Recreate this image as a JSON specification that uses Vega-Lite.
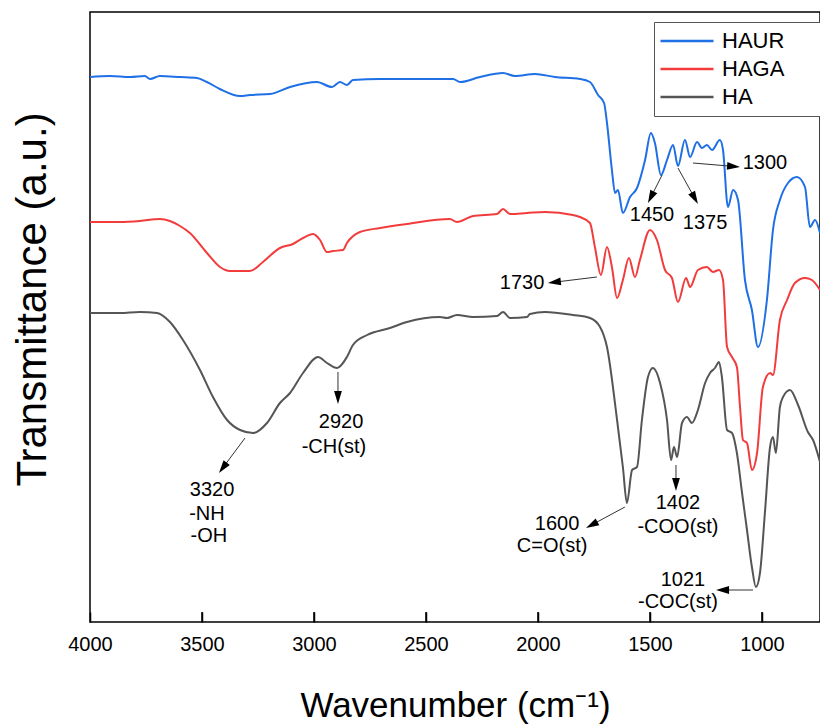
{
  "$schema": "https://vega.github.io/schema/vega-lite/v6.json",
  "width": 730,
  "height": 610,
  "autosize": {"type": "none"},
  "padding": {"left": 90, "top": 12, "right": 0, "bottom": 103},
  "config": {
    "font": "Liberation Sans",
    "view": {"stroke": "#000", "strokeWidth": 1.5},
    "axis": {"grid": false}
  },
  "datasets": {
    "spectra": [
      {"sample": "HAUR", "wavenumber": 4000, "transmittance": 545},
      {"sample": "HAUR", "wavenumber": 3911, "transmittance": 546},
      {"sample": "HAUR", "wavenumber": 3821, "transmittance": 545},
      {"sample": "HAUR", "wavenumber": 3755, "transmittance": 546},
      {"sample": "HAUR", "wavenumber": 3732, "transmittance": 543},
      {"sample": "HAUR", "wavenumber": 3688, "transmittance": 546},
      {"sample": "HAUR", "wavenumber": 3598, "transmittance": 545},
      {"sample": "HAUR", "wavenumber": 3522, "transmittance": 544},
      {"sample": "HAUR", "wavenumber": 3478, "transmittance": 540},
      {"sample": "HAUR", "wavenumber": 3420, "transmittance": 533},
      {"sample": "HAUR", "wavenumber": 3330, "transmittance": 526},
      {"sample": "HAUR", "wavenumber": 3286, "transmittance": 527},
      {"sample": "HAUR", "wavenumber": 3196, "transmittance": 528},
      {"sample": "HAUR", "wavenumber": 3107, "transmittance": 535},
      {"sample": "HAUR", "wavenumber": 2987, "transmittance": 540},
      {"sample": "HAUR", "wavenumber": 2920, "transmittance": 535},
      {"sample": "HAUR", "wavenumber": 2884, "transmittance": 540},
      {"sample": "HAUR", "wavenumber": 2853, "transmittance": 537},
      {"sample": "HAUR", "wavenumber": 2826, "transmittance": 542},
      {"sample": "HAUR", "wavenumber": 2705, "transmittance": 543},
      {"sample": "HAUR", "wavenumber": 2379, "transmittance": 543},
      {"sample": "HAUR", "wavenumber": 2348, "transmittance": 540},
      {"sample": "HAUR", "wavenumber": 2259, "transmittance": 545},
      {"sample": "HAUR", "wavenumber": 2156, "transmittance": 549},
      {"sample": "HAUR", "wavenumber": 2103, "transmittance": 546},
      {"sample": "HAUR", "wavenumber": 2013, "transmittance": 548},
      {"sample": "HAUR", "wavenumber": 1925, "transmittance": 545},
      {"sample": "HAUR", "wavenumber": 1813, "transmittance": 543},
      {"sample": "HAUR", "wavenumber": 1768, "transmittance": 540},
      {"sample": "HAUR", "wavenumber": 1732, "transmittance": 527},
      {"sample": "HAUR", "wavenumber": 1705, "transmittance": 519},
      {"sample": "HAUR", "wavenumber": 1692, "transmittance": 499},
      {"sample": "HAUR", "wavenumber": 1670, "transmittance": 452},
      {"sample": "HAUR", "wavenumber": 1656, "transmittance": 429},
      {"sample": "HAUR", "wavenumber": 1643, "transmittance": 432},
      {"sample": "HAUR", "wavenumber": 1621, "transmittance": 409},
      {"sample": "HAUR", "wavenumber": 1589, "transmittance": 425},
      {"sample": "HAUR", "wavenumber": 1558, "transmittance": 434},
      {"sample": "HAUR", "wavenumber": 1522, "transmittance": 462},
      {"sample": "HAUR", "wavenumber": 1496, "transmittance": 489},
      {"sample": "HAUR", "wavenumber": 1478, "transmittance": 479},
      {"sample": "HAUR", "wavenumber": 1451, "transmittance": 447},
      {"sample": "HAUR", "wavenumber": 1424, "transmittance": 462},
      {"sample": "HAUR", "wavenumber": 1397, "transmittance": 477},
      {"sample": "HAUR", "wavenumber": 1375, "transmittance": 456},
      {"sample": "HAUR", "wavenumber": 1344, "transmittance": 482},
      {"sample": "HAUR", "wavenumber": 1321, "transmittance": 465},
      {"sample": "HAUR", "wavenumber": 1290, "transmittance": 480},
      {"sample": "HAUR", "wavenumber": 1268, "transmittance": 474},
      {"sample": "HAUR", "wavenumber": 1246, "transmittance": 477},
      {"sample": "HAUR", "wavenumber": 1223, "transmittance": 472},
      {"sample": "HAUR", "wavenumber": 1188, "transmittance": 482},
      {"sample": "HAUR", "wavenumber": 1174, "transmittance": 472},
      {"sample": "HAUR", "wavenumber": 1152, "transmittance": 415},
      {"sample": "HAUR", "wavenumber": 1129, "transmittance": 432},
      {"sample": "HAUR", "wavenumber": 1107, "transmittance": 422},
      {"sample": "HAUR", "wavenumber": 1076, "transmittance": 342},
      {"sample": "HAUR", "wavenumber": 1045, "transmittance": 312},
      {"sample": "HAUR", "wavenumber": 1018, "transmittance": 275},
      {"sample": "HAUR", "wavenumber": 978, "transmittance": 322},
      {"sample": "HAUR", "wavenumber": 951, "transmittance": 392},
      {"sample": "HAUR", "wavenumber": 920, "transmittance": 422},
      {"sample": "HAUR", "wavenumber": 884, "transmittance": 439},
      {"sample": "HAUR", "wavenumber": 844, "transmittance": 445},
      {"sample": "HAUR", "wavenumber": 808, "transmittance": 435},
      {"sample": "HAUR", "wavenumber": 786, "transmittance": 395},
      {"sample": "HAUR", "wavenumber": 763, "transmittance": 402},
      {"sample": "HAUR", "wavenumber": 741, "transmittance": 389},

      {"sample": "HAGA", "wavenumber": 4000, "transmittance": 400},
      {"sample": "HAGA", "wavenumber": 3866, "transmittance": 400},
      {"sample": "HAGA", "wavenumber": 3777, "transmittance": 401},
      {"sample": "HAGA", "wavenumber": 3688, "transmittance": 403},
      {"sample": "HAGA", "wavenumber": 3643, "transmittance": 401},
      {"sample": "HAGA", "wavenumber": 3598, "transmittance": 396},
      {"sample": "HAGA", "wavenumber": 3554, "transmittance": 389},
      {"sample": "HAGA", "wavenumber": 3478, "transmittance": 369},
      {"sample": "HAGA", "wavenumber": 3420, "transmittance": 355},
      {"sample": "HAGA", "wavenumber": 3375, "transmittance": 351},
      {"sample": "HAGA", "wavenumber": 3286, "transmittance": 351},
      {"sample": "HAGA", "wavenumber": 3228, "transmittance": 360},
      {"sample": "HAGA", "wavenumber": 3152, "transmittance": 374},
      {"sample": "HAGA", "wavenumber": 3094, "transmittance": 378},
      {"sample": "HAGA", "wavenumber": 3049, "transmittance": 384},
      {"sample": "HAGA", "wavenumber": 3004, "transmittance": 388},
      {"sample": "HAGA", "wavenumber": 2973, "transmittance": 382},
      {"sample": "HAGA", "wavenumber": 2942, "transmittance": 370},
      {"sample": "HAGA", "wavenumber": 2915, "transmittance": 371},
      {"sample": "HAGA", "wavenumber": 2871, "transmittance": 372},
      {"sample": "HAGA", "wavenumber": 2853, "transmittance": 379},
      {"sample": "HAGA", "wavenumber": 2795, "transmittance": 390},
      {"sample": "HAGA", "wavenumber": 2705, "transmittance": 394},
      {"sample": "HAGA", "wavenumber": 2585, "transmittance": 398},
      {"sample": "HAGA", "wavenumber": 2393, "transmittance": 403},
      {"sample": "HAGA", "wavenumber": 2362, "transmittance": 400},
      {"sample": "HAGA", "wavenumber": 2290, "transmittance": 406},
      {"sample": "HAGA", "wavenumber": 2183, "transmittance": 408},
      {"sample": "HAGA", "wavenumber": 2156, "transmittance": 413},
      {"sample": "HAGA", "wavenumber": 2125, "transmittance": 408},
      {"sample": "HAGA", "wavenumber": 2049, "transmittance": 409},
      {"sample": "HAGA", "wavenumber": 1969, "transmittance": 410},
      {"sample": "HAGA", "wavenumber": 1844, "transmittance": 407},
      {"sample": "HAGA", "wavenumber": 1813, "transmittance": 405},
      {"sample": "HAGA", "wavenumber": 1768, "transmittance": 399},
      {"sample": "HAGA", "wavenumber": 1746, "transmittance": 375},
      {"sample": "HAGA", "wavenumber": 1719, "transmittance": 347},
      {"sample": "HAGA", "wavenumber": 1692, "transmittance": 375},
      {"sample": "HAGA", "wavenumber": 1670, "transmittance": 355},
      {"sample": "HAGA", "wavenumber": 1647, "transmittance": 324},
      {"sample": "HAGA", "wavenumber": 1621, "transmittance": 342},
      {"sample": "HAGA", "wavenumber": 1594, "transmittance": 364},
      {"sample": "HAGA", "wavenumber": 1567, "transmittance": 345},
      {"sample": "HAGA", "wavenumber": 1545, "transmittance": 362},
      {"sample": "HAGA", "wavenumber": 1500, "transmittance": 392},
      {"sample": "HAGA", "wavenumber": 1469, "transmittance": 382},
      {"sample": "HAGA", "wavenumber": 1433, "transmittance": 352},
      {"sample": "HAGA", "wavenumber": 1402, "transmittance": 344},
      {"sample": "HAGA", "wavenumber": 1375, "transmittance": 320},
      {"sample": "HAGA", "wavenumber": 1339, "transmittance": 344},
      {"sample": "HAGA", "wavenumber": 1321, "transmittance": 335},
      {"sample": "HAGA", "wavenumber": 1286, "transmittance": 352},
      {"sample": "HAGA", "wavenumber": 1246, "transmittance": 355},
      {"sample": "HAGA", "wavenumber": 1219, "transmittance": 350},
      {"sample": "HAGA", "wavenumber": 1192, "transmittance": 352},
      {"sample": "HAGA", "wavenumber": 1174, "transmittance": 342},
      {"sample": "HAGA", "wavenumber": 1156, "transmittance": 275},
      {"sample": "HAGA", "wavenumber": 1134, "transmittance": 265},
      {"sample": "HAGA", "wavenumber": 1112, "transmittance": 255},
      {"sample": "HAGA", "wavenumber": 1098, "transmittance": 215},
      {"sample": "HAGA", "wavenumber": 1085, "transmittance": 182},
      {"sample": "HAGA", "wavenumber": 1067, "transmittance": 179},
      {"sample": "HAGA", "wavenumber": 1045, "transmittance": 152},
      {"sample": "HAGA", "wavenumber": 1022, "transmittance": 169},
      {"sample": "HAGA", "wavenumber": 996, "transmittance": 235},
      {"sample": "HAGA", "wavenumber": 964, "transmittance": 249},
      {"sample": "HAGA", "wavenumber": 951, "transmittance": 247},
      {"sample": "HAGA", "wavenumber": 920, "transmittance": 302},
      {"sample": "HAGA", "wavenumber": 888, "transmittance": 322},
      {"sample": "HAGA", "wavenumber": 853, "transmittance": 339},
      {"sample": "HAGA", "wavenumber": 808, "transmittance": 344},
      {"sample": "HAGA", "wavenumber": 777, "transmittance": 342},
      {"sample": "HAGA", "wavenumber": 741, "transmittance": 332},

      {"sample": "HA", "wavenumber": 4000, "transmittance": 309},
      {"sample": "HA", "wavenumber": 3866, "transmittance": 309},
      {"sample": "HA", "wavenumber": 3777, "transmittance": 310},
      {"sample": "HA", "wavenumber": 3701, "transmittance": 309},
      {"sample": "HA", "wavenumber": 3643, "transmittance": 300},
      {"sample": "HA", "wavenumber": 3585, "transmittance": 282},
      {"sample": "HA", "wavenumber": 3509, "transmittance": 252},
      {"sample": "HA", "wavenumber": 3451, "transmittance": 225},
      {"sample": "HA", "wavenumber": 3388, "transmittance": 202},
      {"sample": "HA", "wavenumber": 3330, "transmittance": 192},
      {"sample": "HA", "wavenumber": 3272, "transmittance": 189},
      {"sample": "HA", "wavenumber": 3210, "transmittance": 199},
      {"sample": "HA", "wavenumber": 3152, "transmittance": 219},
      {"sample": "HA", "wavenumber": 3107, "transmittance": 229},
      {"sample": "HA", "wavenumber": 3049, "transmittance": 249},
      {"sample": "HA", "wavenumber": 2982, "transmittance": 265},
      {"sample": "HA", "wavenumber": 2942, "transmittance": 259},
      {"sample": "HA", "wavenumber": 2897, "transmittance": 254},
      {"sample": "HA", "wavenumber": 2853, "transmittance": 265},
      {"sample": "HA", "wavenumber": 2826, "transmittance": 277},
      {"sample": "HA", "wavenumber": 2763, "transmittance": 287},
      {"sample": "HA", "wavenumber": 2661, "transmittance": 294},
      {"sample": "HA", "wavenumber": 2585, "transmittance": 300},
      {"sample": "HA", "wavenumber": 2438, "transmittance": 305},
      {"sample": "HA", "wavenumber": 2406, "transmittance": 304},
      {"sample": "HA", "wavenumber": 2362, "transmittance": 307},
      {"sample": "HA", "wavenumber": 2290, "transmittance": 305},
      {"sample": "HA", "wavenumber": 2183, "transmittance": 306},
      {"sample": "HA", "wavenumber": 2156, "transmittance": 310},
      {"sample": "HA", "wavenumber": 2125, "transmittance": 304},
      {"sample": "HA", "wavenumber": 2049, "transmittance": 305},
      {"sample": "HA", "wavenumber": 2036, "transmittance": 308},
      {"sample": "HA", "wavenumber": 1969, "transmittance": 310},
      {"sample": "HA", "wavenumber": 1844, "transmittance": 307},
      {"sample": "HA", "wavenumber": 1768, "transmittance": 304},
      {"sample": "HA", "wavenumber": 1723, "transmittance": 295},
      {"sample": "HA", "wavenumber": 1692, "transmittance": 275},
      {"sample": "HA", "wavenumber": 1647, "transmittance": 202},
      {"sample": "HA", "wavenumber": 1621, "transmittance": 155},
      {"sample": "HA", "wavenumber": 1603, "transmittance": 119},
      {"sample": "HA", "wavenumber": 1580, "transmittance": 152},
      {"sample": "HA", "wavenumber": 1558, "transmittance": 155},
      {"sample": "HA", "wavenumber": 1536, "transmittance": 202},
      {"sample": "HA", "wavenumber": 1509, "transmittance": 245},
      {"sample": "HA", "wavenumber": 1487, "transmittance": 254},
      {"sample": "HA", "wavenumber": 1455, "transmittance": 239},
      {"sample": "HA", "wavenumber": 1424, "transmittance": 202},
      {"sample": "HA", "wavenumber": 1406, "transmittance": 162},
      {"sample": "HA", "wavenumber": 1393, "transmittance": 175},
      {"sample": "HA", "wavenumber": 1379, "transmittance": 165},
      {"sample": "HA", "wavenumber": 1357, "transmittance": 199},
      {"sample": "HA", "wavenumber": 1335, "transmittance": 205},
      {"sample": "HA", "wavenumber": 1313, "transmittance": 199},
      {"sample": "HA", "wavenumber": 1286, "transmittance": 212},
      {"sample": "HA", "wavenumber": 1254, "transmittance": 239},
      {"sample": "HA", "wavenumber": 1232, "transmittance": 249},
      {"sample": "HA", "wavenumber": 1210, "transmittance": 254},
      {"sample": "HA", "wavenumber": 1192, "transmittance": 260},
      {"sample": "HA", "wavenumber": 1179, "transmittance": 245},
      {"sample": "HA", "wavenumber": 1156, "transmittance": 192},
      {"sample": "HA", "wavenumber": 1134, "transmittance": 189},
      {"sample": "HA", "wavenumber": 1112, "transmittance": 169},
      {"sample": "HA", "wavenumber": 1089, "transmittance": 129},
      {"sample": "HA", "wavenumber": 1067, "transmittance": 92},
      {"sample": "HA", "wavenumber": 1045, "transmittance": 55},
      {"sample": "HA", "wavenumber": 1027, "transmittance": 35},
      {"sample": "HA", "wavenumber": 1009, "transmittance": 49},
      {"sample": "HA", "wavenumber": 987, "transmittance": 109},
      {"sample": "HA", "wavenumber": 964, "transmittance": 175},
      {"sample": "HA", "wavenumber": 951, "transmittance": 185},
      {"sample": "HA", "wavenumber": 938, "transmittance": 169},
      {"sample": "HA", "wavenumber": 920, "transmittance": 215},
      {"sample": "HA", "wavenumber": 906, "transmittance": 225},
      {"sample": "HA", "wavenumber": 875, "transmittance": 232},
      {"sample": "HA", "wavenumber": 839, "transmittance": 217},
      {"sample": "HA", "wavenumber": 795, "transmittance": 190},
      {"sample": "HA", "wavenumber": 772, "transmittance": 182},
      {"sample": "HA", "wavenumber": 741, "transmittance": 160}
    ],
    "tickvals": [
      {"wavenumber": 3500}, {"wavenumber": 3000}, {"wavenumber": 2500},
      {"wavenumber": 2000}, {"wavenumber": 1500}, {"wavenumber": 1000}
    ],
    "arrows": [
      {"x1": 1308, "y1": 459, "x2": 1127, "y2": 455.6, "angle": 95},
      {"x1": 1446, "y1": 447, "x2": 1496, "y2": 424.8, "angle": 206.6},
      {"x1": 1375, "y1": 454, "x2": 1300, "y2": 423.7, "angle": 150.9},
      {"x1": 1737, "y1": 345, "x2": 1927, "y2": 339.8, "angle": 263},
      {"x1": 2893, "y1": 250, "x2": 2893, "y2": 224.5, "angle": 180},
      {"x1": 3308, "y1": 184, "x2": 3407, "y2": 154.2, "angle": 216.6},
      {"x1": 1612, "y1": 115, "x2": 1760, "y2": 97.1, "angle": 241.7},
      {"x1": 1384, "y1": 157, "x2": 1384, "y2": 137.5, "angle": 180},
      {"x1": 1040, "y1": 32, "x2": 1176, "y2": 32, "angle": 270}
    ],
    "labels": [
      {"x": 987, "y": 459, "text": "1300"},
      {"x": 1491, "y": 407, "text": "1450"},
      {"x": 1254, "y": 399, "text": "1375"},
      {"x": 2071, "y": 339, "text": "1730"},
      {"x": 2879, "y": 200, "text": "2920"},
      {"x": 2911, "y": 175, "text": "-CH(st)"},
      {"x": 3455, "y": 132, "text": "3320"},
      {"x": 3478, "y": 108, "text": "-NH"},
      {"x": 3469, "y": 86, "text": "-OH"},
      {"x": 1915, "y": 98, "text": "1600"},
      {"x": 1937, "y": 76, "text": "C=O(st)"},
      {"x": 1375, "y": 119, "text": "1402"},
      {"x": 1375, "y": 95, "text": "-COO(st)"},
      {"x": 1353, "y": 42, "text": "1021"},
      {"x": 1375, "y": 20, "text": "-COC(st)"}
    ]
  },
  "layer": [
    {
      "data": {"name": "spectra"},
      "mark": {"type": "line", "strokeWidth": 2, "clip": true, "interpolate": "monotone"},
      "encoding": {
        "x": {
          "field": "wavenumber",
          "type": "quantitative",
          "scale": {"domain": [741, 4000], "reverse": true, "nice": false, "zero": false},
          "axis": {
            "values": [4000, 3500, 3000, 2500, 2000, 1500, 1000],
            "format": "d",
            "offset": -10,
            "domain": false,
            "ticks": true,
            "tickSize": 10,
            "tickColor": "#000",
            "tickWidth": 1.5,
            "labelFontSize": 20,
            "labelColor": "#000",
            "labelPadding": 12,
            "labelFlush": false,
            "labelOverlap": false,
            "title": "Wavenumber (cm⁻¹)",
            "titleFontSize": 35,
            "titleFontWeight": "normal",
            "titleColor": "#000",
            "titleY": 76,
            "titleBaseline": "top",
            "zindex": 1
          }
        },
        "y": {
          "field": "transmittance",
          "type": "quantitative",
          "scale": {"domain": [0, 610], "nice": false, "zero": false},
          "axis": {
            "title": "Transmittance (a.u.)",
            "labels": false,
            "ticks": false,
            "domain": false,
            "titleFontSize": 42,
            "titleFontWeight": "normal",
            "titleColor": "#000",
            "titleX": -58,
            "titleY": 287,
            "titleAngle": 270,
            "titleBaseline": "middle",
            "titleAlign": "center"
          }
        },
        "color": {
          "field": "sample",
          "type": "nominal",
          "scale": {"domain": ["HAUR", "HAGA", "HA"], "range": ["#1f6fe5", "#f23c3c", "#555555"]},
          "legend": {
            "title": null,
            "orient": "none",
            "legendX": 564,
            "legendY": 10,
            "symbolType": "stroke",
            "symbolSize": 2809,
            "symbolStrokeWidth": 2.5,
            "labelFontSize": 22,
            "labelColor": "#000",
            "labelOffset": 7,
            "labelExpr": "datum.label + '\u00a0\u00a0\u00a0\u00a0\u00a0\u00a0\u00a0\u200b'",
            "clipHeight": 28,
            "rowPadding": 0,
            "padding": 5,
            "strokeColor": "#555",
            "fillColor": "#fff"
          }
        }
      }
    },
    {
      "data": {"name": "tickvals"},
      "mark": {"type": "tick", "orient": "vertical", "thickness": 1.5, "size": 10, "color": "#000", "opacity": 1},
      "encoding": {
        "x": {"field": "wavenumber", "type": "quantitative"},
        "y": {"datum": 5}
      }
    },
    {
      "data": {"name": "arrows"},
      "mark": {"type": "rule", "color": "#333", "strokeWidth": 1},
      "encoding": {
        "x": {"field": "x1", "type": "quantitative"},
        "x2": {"field": "x2"},
        "y": {"field": "y1", "type": "quantitative"},
        "y2": {"field": "y2"}
      }
    },
    {
      "data": {"name": "arrows"},
      "mark": {"type": "point", "shape": "M0,-1L0.6,1L-0.6,1Z", "filled": true, "color": "#000", "opacity": 1, "size": 169},
      "encoding": {
        "x": {"field": "x2", "type": "quantitative"},
        "y": {"field": "y2", "type": "quantitative"},
        "angle": {"field": "angle", "type": "quantitative", "scale": null}
      }
    },
    {
      "data": {"name": "labels"},
      "mark": {"type": "text", "fontSize": 20, "color": "#000", "align": "center", "baseline": "middle"},
      "encoding": {
        "x": {"field": "x", "type": "quantitative"},
        "y": {"field": "y", "type": "quantitative"},
        "text": {"field": "text"}
      }
    }
  ]
}
